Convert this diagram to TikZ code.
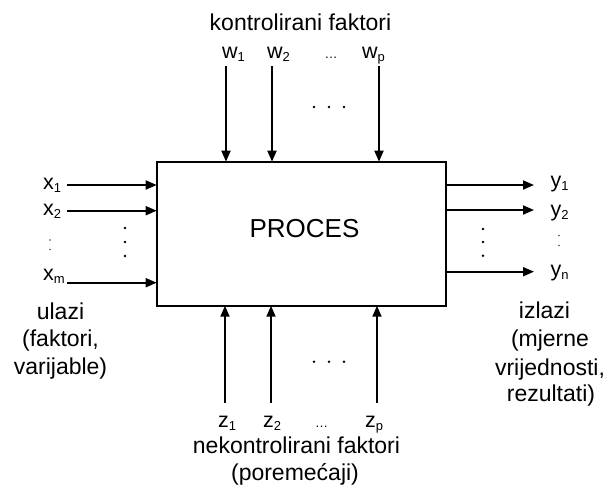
\documentclass[tikz,border=0pt]{standalone}
\usepackage{fontspec}
\setmainfont{Liberation Sans}
\usetikzlibrary{arrows.meta}
\newcommand\sbs[1]{\raisebox{-0.3ex}{\fontsize{13}{13}\selectfont #1}}
\begin{document}
\begin{tikzpicture}[x=1pt,y=-1pt,
  lbl/.style={inner sep=0pt,outer sep=0pt,font=\fontsize{23}{27}\selectfont},
  var/.style={lbl,anchor=base west,font=\fontsize{21.5}{25}\selectfont},
  txt/.style={lbl,anchor=base},
  small/.style={inner sep=0pt,anchor=base,font=\fontsize{13}{13}\selectfont},
  arr/.style={line width=1.8pt,-{Triangle[length=11pt,width=9pt]}},
  procbox/.style={draw,line width=1.8pt,minimum width=289pt,minimum height=144pt,inner sep=0pt,outer sep=0pt},
  dot/.style={fill,circle,inner sep=0pt,minimum size=2.6pt},
  fdot/.style={fill=black!70,circle,inner sep=0pt,minimum size=1.8pt}]
\useasboundingbox (0,0) rectangle (608,488);
% process box
\node[procbox] (proc) at (301.2,233.7) {};
\node[lbl,anchor=base,font=\fontsize{26}{30}\selectfont] (ptxt) at (304.5,237.7) {PROCES};
% top: controlled factors
\node[txt] (kf) at (300.5,30) {kontrolirani faktori};
\node[var] (w1) at (222,58) {w\sbs{1}};
\node[var] (w2) at (267,58) {w\sbs{2}};
\node[small] (wd) at (331,58) {…};
\node[var] (wp) at (362,58) {w\sbs{p}};
\coordinate (w1s) at (226,66);
\coordinate (w2s) at (272,66);
\coordinate (wps) at (379,66);
\draw[arr] (w1s) -- (w1s |- proc.north);
\draw[arr] (w2s) -- (w2s |- proc.north);
\draw[arr] (wps) -- (wps |- proc.north);
\node[dot] (td1) at (314,107) {};
\node[dot] (td2) at (329,107) {};
\node[dot] (td3) at (344,107) {};
% bottom: uncontrolled factors
\coordinate (z1s) at (225,403);
\coordinate (z2s) at (271,403);
\coordinate (zps) at (377,403);
\draw[arr] (z1s) -- (z1s |- proc.south);
\draw[arr] (z2s) -- (z2s |- proc.south);
\draw[arr] (zps) -- (zps |- proc.south);
\node[dot] (bd1) at (314,361.7) {};
\node[dot] (bd2) at (329,361.7) {};
\node[dot] (bd3) at (344,361.7) {};
\node[var] (z1) at (218,427) {z\sbs{1}};
\node[var] (z2) at (263,427) {z\sbs{2}};
\node[small] (zd) at (321.5,427) {…};
\node[var] (zp) at (365,427) {z\sbs{p}};
\node[txt] (nk1) at (296.5,453) {nekontrolirani faktori};
\node[txt] (nk2) at (295,480) {(poremećaji)};
% left: inputs
\node[var] (x1) at (43,189) {x\sbs{1}};
\node[var] (x2) at (43,215) {x\sbs{2}};
\node[var] (xm) at (43,280) {x\sbs{m}};
\coordinate (x1s) at (67,185);
\coordinate (x2s) at (67,210.7);
\coordinate (xms) at (67,282.7);
\draw[arr] (x1s) -- (x1s -| proc.west);
\draw[arr] (x2s) -- (x2s -| proc.west);
\draw[arr] (xms) -- (xms -| proc.west);
\node[fdot] (lc1) at (50,240) {};
\node[fdot] (lc2) at (50,249.5) {};
\node[dot] (ld1) at (125,228) {};
\node[dot] (ld2) at (125,242) {};
\node[dot] (ld3) at (125,256) {};
\node[txt] (ul1) at (60.5,319) {ulazi};
\node[txt] (ul2) at (60.5,346.7) {(faktori,};
\node[txt] (ul3) at (60.5,374) {varijable)};
% right: outputs
\coordinate (y1e) at (534,185);
\coordinate (y2e) at (534,210);
\coordinate (yne) at (534,271.7);
\draw[arr] (y1e -| proc.east) -- (y1e);
\draw[arr] (y2e -| proc.east) -- (y2e);
\draw[arr] (yne -| proc.east) -- (yne);
\node[var] (y1) at (550.7,187) {y\sbs{1}};
\node[var] (y2) at (550.7,216) {y\sbs{2}};
\node[var] (yn) at (550.7,276) {y\sbs{n}};
\node[fdot] (rc1) at (559,235.5) {};
\node[fdot] (rc2) at (559,245.5) {};
\node[dot] (rd1) at (483,229) {};
\node[dot] (rd2) at (483,242) {};
\node[dot] (rd3) at (483,255.7) {};
\node[txt] (iz1) at (544.5,318) {izlazi};
\node[txt] (iz2) at (550,346) {(mjerne};
\node[txt] (iz3) at (550,375) {vrijednosti,};
\node[txt] (iz4) at (551,401.7) {rezultati)};
\end{tikzpicture}
\end{document}
